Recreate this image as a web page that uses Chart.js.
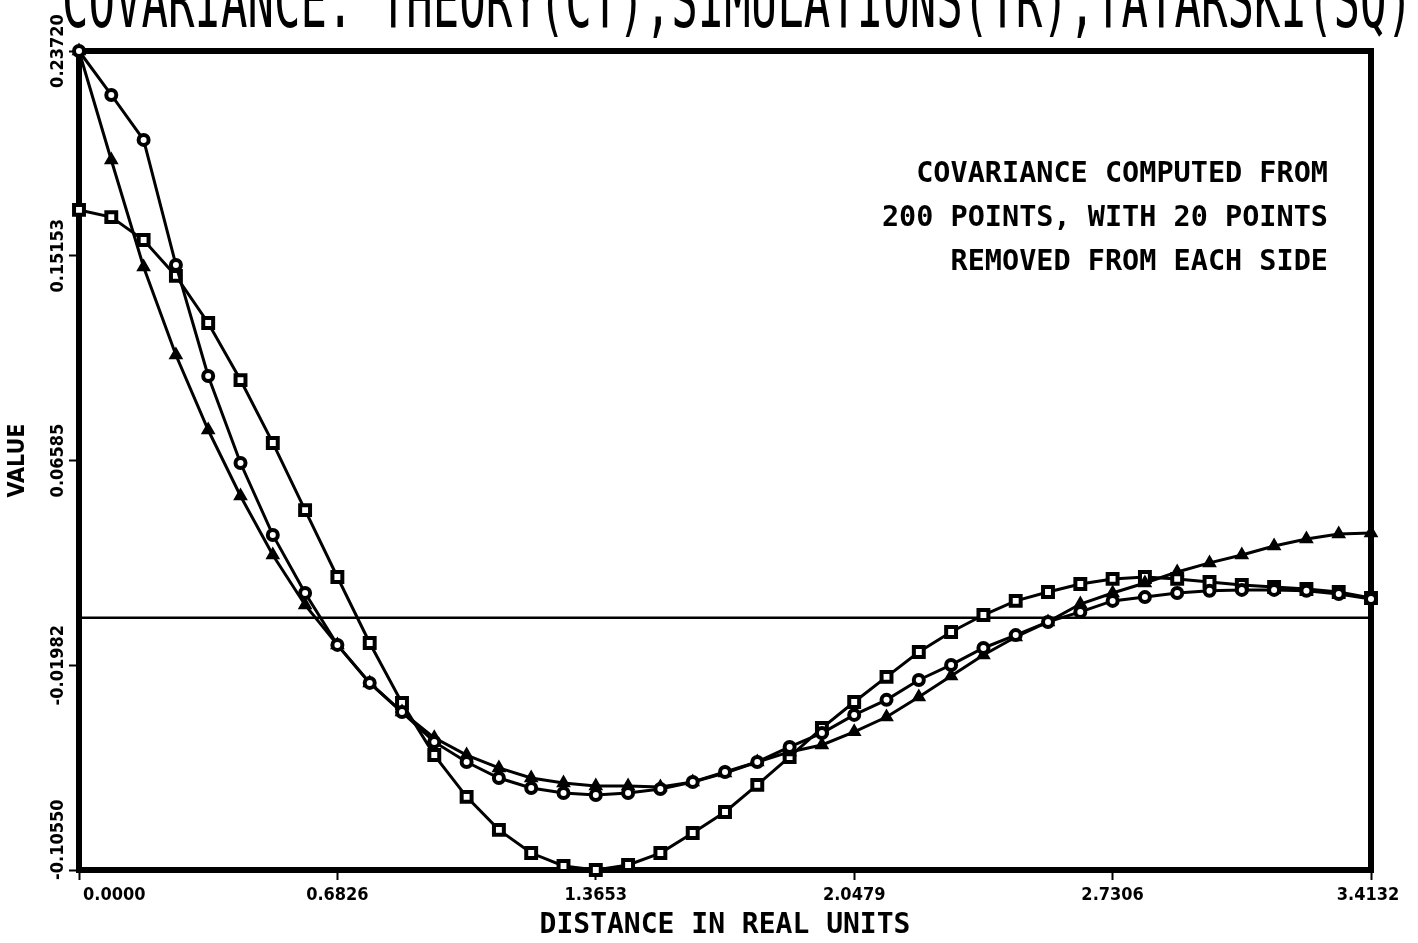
<!DOCTYPE html>
<html>
<head>
<meta charset="utf-8">
<title>Covariance</title>
<script src="https://cdn.jsdelivr.net/npm/chart.js@4/dist/chart.umd.min.js"></script>
<style>
  html, body { margin: 0; padding: 0; background: #fff; overflow: hidden; }
  #wrap { width: 1418px; height: 943px; position: relative; }
</style>
</head>
<body>
<div id="wrap"><canvas id="cov" width="1418" height="943"></canvas></div>
<script>
// Lag distance (real units), 41 samples from 0 to 3.4132
const distance = [
  0.0000, 0.0853, 0.1707, 0.2560, 0.3413, 0.4267, 0.5120, 0.5973, 0.6826, 0.7680,
  0.8533, 0.9386, 1.0240, 1.1093, 1.1946, 1.2800, 1.3653, 1.4506, 1.5359, 1.6213,
  1.7066, 1.7919, 1.8773, 1.9626, 2.0479, 2.1333, 2.2186, 2.3039, 2.3893, 2.4746,
  2.5599, 2.6453, 2.7306, 2.8159, 2.9012, 2.9866, 3.0719, 3.1572, 3.2426, 3.3279,
  3.4132
];

// Theory (CT) - circles
const theoryCT = [
  0.2372, 0.2188, 0.2000, 0.1477, 0.1012, 0.0648, 0.0347, 0.0104, -0.0113, -0.0272,
  -0.0394, -0.0519, -0.0603, -0.0670, -0.0712, -0.0733, -0.0741, -0.0733, -0.0716, -0.0687,
  -0.0645, -0.0603, -0.0540, -0.0482, -0.0406, -0.0343, -0.0260, -0.0197, -0.0126, -0.0072,
  -0.0017, 0.0025, 0.0071, 0.0087, 0.0104, 0.0113, 0.0117, 0.0117, 0.0113, 0.0100,
  0.0079
];

// Simulations (TR) - triangles
const simulationsTR = [
  0.2372, 0.1916, 0.1468, 0.1100, 0.0786, 0.0510, 0.0263, 0.0054, -0.0113, -0.0272,
  -0.0394, -0.0502, -0.0574, -0.0628, -0.0670, -0.0691, -0.0703, -0.0703, -0.0708, -0.0687,
  -0.0649, -0.0603, -0.0561, -0.0532, -0.0477, -0.0415, -0.0331, -0.0243, -0.0155, -0.0080,
  -0.0017, 0.0058, 0.0104, 0.0146, 0.0192, 0.0230, 0.0263, 0.0301, 0.0330, 0.0351,
  0.0355
];

// Tatarski (SQ) - squares
const tatarskiSQ = [
  0.1707, 0.1677, 0.1581, 0.1431, 0.1234, 0.0995, 0.0732, 0.0451, 0.0171, -0.0105,
  -0.0356, -0.0574, -0.0749, -0.0887, -0.0984, -0.1038, -0.1055, -0.1034, -0.0984, -0.0900,
  -0.0812, -0.0699, -0.0582, -0.0461, -0.0352, -0.0247, -0.0143, -0.0059, 0.0012, 0.0071,
  0.0108, 0.0142, 0.0163, 0.0171, 0.0163, 0.0150, 0.0138, 0.0129, 0.0121, 0.0108,
  0.0083
];

const xTickValues = [0, 0.6826, 1.3653, 2.0479, 2.7306, 3.4132];
const xTickLabels = ['0.0000', '0.6826', '1.3653', '2.0479', '2.7306', '3.4132'];
const yTickValues = [-0.1055, -0.01982, 0.06585, 0.15153, 0.2372];
const yTickLabels = ['-0.10550', '-0.01982', '0.06585', '0.15153', '0.23720'];

const chartTitle = 'COVARIANCE: THEORY(CT),SIMULATIONS(TR),TATARSKI(SQ)';
const noteLines = [
  'COVARIANCE COMPUTED FROM',
  '200 POINTS, WITH 20 POINTS',
  'REMOVED FROM EACH SIDE'
];
const xAxisTitle = 'DISTANCE IN REAL UNITS';
const yAxisTitle = 'VALUE';

const toPoints = (ys) => ys.map((y, i) => ({ x: distance[i], y }));
const INK = '#000';
const TICK_FONT = 'bold 18px "DejaVu Sans Condensed", "DejaVu Sans", sans-serif';

// Heavy box around the plotting area
const framePlugin = {
  id: 'frame',
  beforeDatasetsDraw(chart) {
    const { ctx, chartArea: a } = chart;
    ctx.save();
    ctx.strokeStyle = INK;
    ctx.lineWidth = 6;
    ctx.strokeRect(a.left, a.top, a.right - a.left, a.bottom - a.top);
    ctx.restore();
  }
};

// Tick labels: rotated on the value axis, upright on the distance axis;
// the two labels at the lower-left corner are pushed clear of each other.
const tickLabelPlugin = {
  id: 'tickLabels',
  afterDraw(chart) {
    const { ctx } = chart;
    const ys = chart.scales.y;
    const xs = chart.scales.x;
    ctx.save();
    ctx.fillStyle = INK;
    ctx.font = TICK_FONT;
    ctx.textBaseline = 'middle';
    yTickValues.forEach((v, i) => {
      ctx.save();
      let py = ys.getPixelForValue(v);
      ctx.textAlign = 'center';
      if (i === 0) { py += 10; ctx.textAlign = 'left'; }
      ctx.translate(58, py);
      ctx.rotate(-Math.PI / 2);
      ctx.fillText(yTickLabels[i], 0, 0);
      ctx.restore();
    });
    xTickValues.forEach((v, i) => {
      let px = xs.getPixelForValue(v);
      ctx.textAlign = 'center';
      if (i === 0) { px += 4; ctx.textAlign = 'left'; }
      if (i === xTickValues.length - 1) { px -= 3; }
      ctx.fillText(xTickLabels[i], px, 895);
    });
    ctx.restore();
  }
};

// Plot heading and explanatory note
const textPlugin = {
  id: 'texts',
  afterDraw(chart) {
    const { ctx } = chart;
    ctx.save();
    ctx.fillStyle = INK;
    ctx.font = '44px "DejaVu Sans Mono", monospace';
    ctx.textAlign = 'left';
    ctx.textBaseline = 'alphabetic';
    ctx.translate(62, 27);
    ctx.scale(1, 1.7);
    ctx.fillText(chartTitle, 0, 0);
    ctx.restore();

    ctx.save();
    ctx.fillStyle = INK;
    ctx.font = 'bold 28.5px "DejaVu Sans Mono", monospace';
    ctx.textAlign = 'right';
    ctx.textBaseline = 'alphabetic';
    const baselines = [182, 226, 270];
    noteLines.forEach((t, i) => ctx.fillText(t, 1328, baselines[i]));
    ctx.restore();
  }
};

const lineBase = {
  borderColor: INK,
  borderWidth: 3,
  pointBorderColor: INK,
  pointBorderWidth: 4,
  tension: 0,
  clip: false,
  fill: false
};

new Chart(document.getElementById('cov'), {
  type: 'line',
  data: {
    datasets: [
      Object.assign({}, lineBase, {
        label: 'THEORY (CT)',
        data: toPoints(theoryCT),
        pointStyle: 'circle',
        pointRadius: 5,
        pointBackgroundColor: '#fff'
      }),
      Object.assign({}, lineBase, {
        label: 'SIMULATIONS (TR)',
        data: toPoints(simulationsTR),
        pointStyle: 'triangle',
        pointRadius: 6.5,
        pointBorderWidth: 2,
        pointBackgroundColor: INK
      }),
      Object.assign({}, lineBase, {
        label: 'TATARSKI (SQ)',
        data: toPoints(tatarskiSQ),
        pointStyle: 'rect',
        pointRadius: 7,
        pointBackgroundColor: '#fff'
      }),
      {
        label: 'zero',
        data: [{ x: 0, y: 0 }, { x: 3.4132, y: 0 }],
        borderColor: INK,
        borderWidth: 2.5,
        pointRadius: 0,
        fill: false
      }
    ]
  },
  options: {
    responsive: false,
    animation: false,
    devicePixelRatio: 1,
    layout: { padding: { left: 0, right: 47, top: 51, bottom: 0 } },
    plugins: {
      legend: { display: false },
      tooltip: { enabled: false },
      title: { display: false }
    },
    scales: {
      x: {
        type: 'linear',
        min: 0,
        max: 3.4132,
        afterBuildTicks(scale) { scale.ticks = xTickValues.map(v => ({ value: v })); },
        afterFit(scale) { scale.height = 73; },
        ticks: { display: false },
        grid: {
          display: true,
          drawOnChartArea: false,
          drawTicks: true,
          tickLength: 10,
          tickWidth: 2,
          tickColor: INK,
          color: INK
        },
        border: { display: true, width: 6, color: INK },
        title: {
          display: true,
          text: xAxisTitle,
          color: INK,
          padding: 0,
          font: { family: '"DejaVu Sans Mono", monospace', size: 28, weight: 'bold' }
        }
      },
      y: {
        type: 'linear',
        min: -0.1055,
        max: 0.2372,
        afterBuildTicks(scale) { scale.ticks = yTickValues.map(v => ({ value: v })); },
        afterFit(scale) { scale.width = 79; },
        ticks: { display: false },
        grid: {
          display: true,
          drawOnChartArea: false,
          drawTicks: true,
          tickLength: 10,
          tickWidth: 2,
          tickColor: INK,
          color: INK
        },
        border: { display: true, width: 6, color: INK },
        title: {
          display: true,
          text: yAxisTitle,
          color: INK,
          padding: { top: 4, bottom: 0 },
          font: { family: '"DejaVu Sans Condensed", "DejaVu Sans", sans-serif', size: 23, weight: 'bold' }
        }
      }
    }
  },
  plugins: [framePlugin, tickLabelPlugin, textPlugin]
});
</script>
</body>
</html>
